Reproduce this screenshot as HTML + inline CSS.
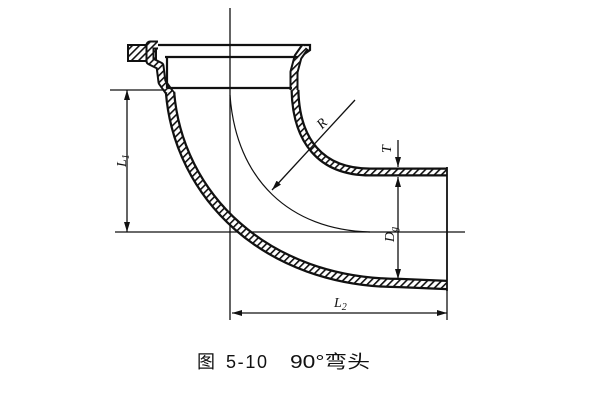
<!DOCTYPE html>
<html><head><meta charset="utf-8"><style>
html,body{margin:0;padding:0;background:#fff;}
svg{display:block}
</style></head><body>
<svg width="600" height="407" viewBox="0 0 600 407" xmlns="http://www.w3.org/2000/svg">
<defs>
<pattern id="h" width="5" height="5" patternUnits="userSpaceOnUse" patternTransform="rotate(45)">
<rect width="5" height="5" fill="#fff"/><rect width="1.6" height="5" fill="#111"/>
</pattern>
<marker id="a" markerWidth="10" markerHeight="6" refX="10" refY="3" orient="auto" markerUnits="userSpaceOnUse">
<path d="M0,0 L10,3 L0,6 Z" fill="#111"/></marker>
<marker id="as" markerWidth="10" markerHeight="6" refX="0" refY="3" orient="auto" markerUnits="userSpaceOnUse">
<path d="M10,0 L0,3 L10,6 Z" fill="#111"/></marker>
</defs>
<g fill="none" stroke="#111">
<line x1="230" y1="8" x2="230" y2="320" stroke-width="1.3"/>
<line x1="115" y1="232" x2="465" y2="232" stroke-width="1.3"/>
<rect x="128" y="45" width="28" height="16" stroke-width="2" fill="url(#h)"/>
<path d="M150,45 L310,45 L310,50 L300,57 L296,70 L296,88" stroke-width="2.2" fill="none"/>
<path d="M158,45 L150,45 L150,61 L160,66 L162,82 L172,96" stroke-width="9" stroke-linejoin="round"/>
<path d="M158,45 L150,45 L150,61 L160,66 L162,82 L172,96" stroke-width="5" stroke="url(#h)" stroke-linejoin="round"/>
<path d="M305,47 L298,57 L294,72 L294,90" stroke-width="9" stroke-linejoin="round"/>
<path d="M305,47 L298,57 L294,72 L294,90" stroke-width="5" stroke="url(#h)" stroke-linejoin="round"/>
<line x1="165" y1="57" x2="298" y2="57" stroke-width="2.2"/>
<line x1="167" y1="57" x2="167" y2="88" stroke-width="2.2"/>
<line x1="167" y1="88" x2="292" y2="88" stroke-width="2.2"/>
<path d="M170,92 C178,195 265,283 400,283 L447,285" stroke-width="10.5"/>
<path d="M170,92 C178,195 265,283 400,283 L447,285" stroke-width="6" stroke="url(#h)"/>
<path d="M295,90 C296,140 320,172 370,172 L447,172" stroke-width="9"/>
<path d="M295,90 C296,140 320,172 370,172 L447,172" stroke-width="4.5" stroke="url(#h)"/>
<line x1="447" y1="167" x2="447" y2="291" stroke-width="1.8"/>
<path d="M230,95 C236,180 290,230 370,232" stroke-width="1.2"/>
<line x1="355" y1="100" x2="272" y2="190" stroke-width="1.3" marker-end="url(#a)"/>
<line x1="398" y1="140" x2="398" y2="167" stroke-width="1.3" marker-end="url(#a)"/>
<line x1="398" y1="177" x2="398" y2="279" stroke-width="1.3" marker-start="url(#as)" marker-end="url(#a)"/>
<line x1="110" y1="90" x2="165" y2="90" stroke-width="1.3"/>
<line x1="127" y1="90" x2="127" y2="232" stroke-width="1.3" marker-start="url(#as)" marker-end="url(#a)"/>
<line x1="232" y1="313" x2="447" y2="313" stroke-width="1.3" marker-start="url(#as)" marker-end="url(#a)"/>
<line x1="447" y1="291" x2="447" y2="320" stroke-width="1.3"/>
</g>
<g font-family="Liberation Serif, serif" font-style="italic" font-size="14" fill="#111">
<text x="318" y="128" transform="rotate(-45 322 124)">R</text>
<text x="382" y="152" transform="rotate(-90 387 148)">T</text>
<text x="115" y="168" transform="rotate(-90 120 162)">L<tspan font-size="10" dy="3">1</tspan></text>
<text x="380" y="240" transform="rotate(-90 388 234)">D<tspan font-size="10" dy="3">g</tspan></text>
<text x="334" y="307">L<tspan font-size="10" dy="3">2</tspan></text>
</g>
<g font-family="Liberation Sans, Noto Sans CJK SC, sans-serif" font-size="18" fill="#111">
<text x="197" y="368">图</text>
<text x="226" y="368" textLength="41" lengthAdjust="spacing">5-10</text>
<text x="290" y="368" textLength="80" lengthAdjust="spacingAndGlyphs">90°弯头</text>
</g>
</svg>
</body></html>
